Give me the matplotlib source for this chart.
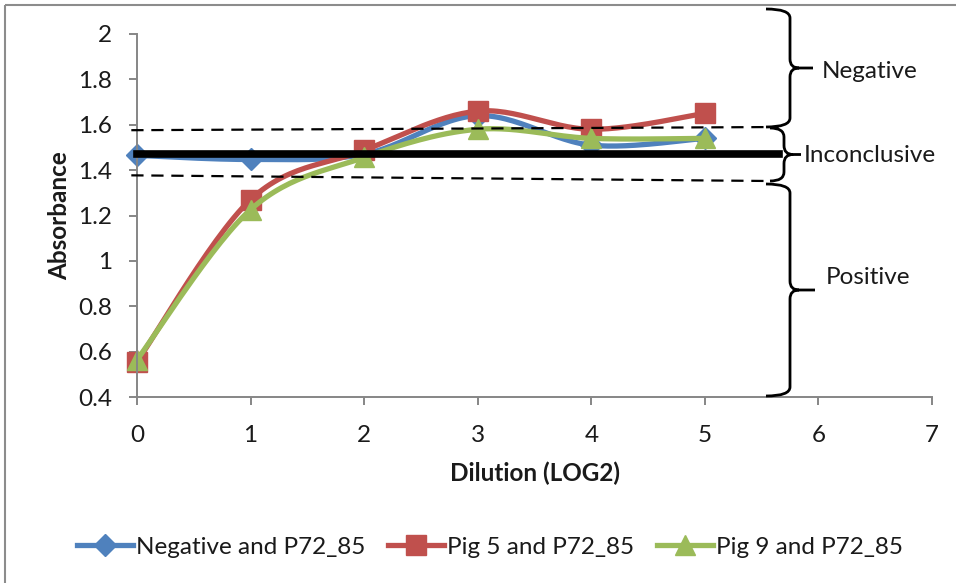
import numpy as np
import matplotlib
matplotlib.use("Agg")
import matplotlib.pyplot as plt
from matplotlib.path import Path
from matplotlib.patches import PathPatch, Rectangle

plt.rcParams['font.family'] = ['Lato', 'DejaVu Sans']

# data
dilution = [0, 1, 2, 3, 4, 5]
negative = [1.465, 1.447, 1.47, 1.64, 1.51, 1.54]
pig5 = [0.555, 1.27, 1.487, 1.66, 1.58, 1.65]
pig9 = [0.564, 1.226, 1.456, 1.58, 1.54, 1.54]
series_names = ["Negative and P72_85", "Pig 5 and P72_85", "Pig 9 and P72_85"]
cutoff = 1.47
cutoff_end = 5.65
upper_limit = (1.576, 1.59)
lower_limit = (1.377, 1.352)
zone_names = ["Negative", "Inconclusive", "Positive"]

COLORS = ["#4F81BD", "#C0504D", "#9BBB59"]
MARKERS = ["D", "s", "^"]
MSIZES = [11, 15, 15]
FS = 17.5
TXT = '#1a1a1a'

W, H = 956, 583


def smooth(xs, ys, n=30):
    # excel-ish smoothed line: catmull-rom as cubic bezier segments
    xs = np.asarray(xs, float)
    ys = np.asarray(ys, float)
    px = np.concatenate([[xs[0]], xs, [xs[-1]]])
    py = np.concatenate([[ys[0]], ys, [ys[-1]]])
    t = np.linspace(0, 1, n)
    ox, oy = [], []
    for i in range(1, len(px) - 2):
        p0 = np.array([px[i - 1], py[i - 1]])
        p1 = np.array([px[i], py[i]])
        p2 = np.array([px[i + 1], py[i + 1]])
        p3 = np.array([px[i + 2], py[i + 2]])
        c1 = p1 + (p2 - p0) / 6
        c2 = p2 - (p3 - p1) / 6
        b = ((1 - t) ** 3)[:, None] * p1 + (3 * (1 - t) ** 2 * t)[:, None] * c1 \
            + (3 * (1 - t) * t ** 2)[:, None] * c2 + (t ** 3)[:, None] * p2
        ox.extend(b[:, 0])
        oy.extend(b[:, 1])
    return ox, oy


fig = plt.figure(figsize=(W / 100, H / 100), dpi=100)
ax = fig.add_axes([137 / W, 1 - 397 / H, 795 / W, 363 / H])

handles = []
for ys, c, m, ms, name in zip([negative, pig5, pig9], COLORS, MARKERS, MSIZES, series_names):
    sx, sy = smooth(dilution, ys)
    ax.plot(sx, sy, color=c, lw=3.8, solid_capstyle='round', clip_on=False)
    ax.plot(dilution, ys, ls='none', marker=m, ms=ms, color=c, clip_on=False)
    h, = ax.plot([], [], color=c, lw=3.8, marker=m, ms=ms, label=name)
    handles.append(h)

# cut-off lines
ax.plot([0, cutoff_end], [cutoff, cutoff], color='black', lw=5.5, clip_on=False, zorder=5)
ax.plot([-0.05, 5.65], list(upper_limit), color='black', lw=1.6, ls=(0, (5.5, 3.5)), clip_on=False, zorder=5)
ax.plot([-0.05, 5.58], list(lower_limit), color='black', lw=1.6, ls=(0, (5.5, 3.5)), clip_on=False, zorder=5)

ax.set_xlim(0, 7)
ax.set_ylim(0.4, 2.0)
ax.set_xticks(range(0, 8))
ax.set_yticks(np.arange(0.4, 2.01, 0.2))
ax.set_yticklabels(["0.4", "0.6", "0.8", "1", "1.2", "1.4", "1.6", "1.8", "2"])
for s in ['top', 'right']:
    ax.spines[s].set_visible(False)
for s in ['left', 'bottom']:
    ax.spines[s].set_color('#868686')
    ax.spines[s].set_linewidth(1.4)
ax.tick_params(direction='out', length=6, width=1.4, color='#868686',
               labelsize=FS, labelcolor=TXT)
ax.tick_params(axis='y', pad=12)
ax.tick_params(axis='x', pad=14)
ax.set_xlabel("Dilution (LOG2)", fontsize=FS, fontweight='bold', va='center', color=TXT)
ax.xaxis.set_label_coords(0.5, -(473 - 397) / 363)
ax.set_ylabel("Absorbance", fontsize=FS, fontweight='bold', va='center', color=TXT)
ax.yaxis.set_label_coords((60 - 137) / 795, 0.5)

fig.legend(handles=handles, loc='center', bbox_to_anchor=(490 / W, 1 - 547 / H), ncol=3,
           frameon=False, fontsize=FS, handlelength=2.3, handletextpad=0.12,
           columnspacing=0.95, labelcolor=TXT)

# overlay in pixel coords for braces and border
ov = fig.add_axes([0, 0, 1, 1], zorder=10)
ov.set_xlim(0, W)
ov.set_ylim(H, 0)
ov.axis('off')
ov.patch.set_alpha(0)

ov.add_patch(Rectangle((5, 5), W, H, fill=False, edgecolor='#8c8c8c', lw=1.5))


def brace(x0, xs, xt, y0, y1, r=9):
    ym = (y0 + y1) / 2
    verts = [(x0, y0), (xs, y0), (xs, y0 + r),
             (xs, ym - r), (xs, ym), (xs + r, ym), (xt, ym),
             (xs + r, ym), (xs, ym), (xs, ym + r),
             (xs, y1 - r), (xs, y1), (x0, y1)]
    codes = [Path.MOVETO, Path.CURVE3, Path.CURVE3,
             Path.LINETO, Path.CURVE3, Path.CURVE3, Path.LINETO,
             Path.MOVETO, Path.CURVE3, Path.CURVE3,
             Path.LINETO, Path.CURVE3, Path.CURVE3]
    ov.add_patch(PathPatch(Path(verts, codes), fill=False, edgecolor='black', lw=2.0))


brace(766, 790, 813, 9, 127)
brace(770, 784, 801, 128, 181)
brace(766, 790, 815, 184, 396)

ov.text(870, 71, zone_names[0], fontsize=FS, ha='center', va='center', color=TXT)
ov.text(870, 155, zone_names[1], fontsize=FS, ha='center', va='center', color=TXT)
ov.text(868, 278, zone_names[2], fontsize=FS, ha='center', va='center', color=TXT)

fig.savefig("out.png", dpi=100)
